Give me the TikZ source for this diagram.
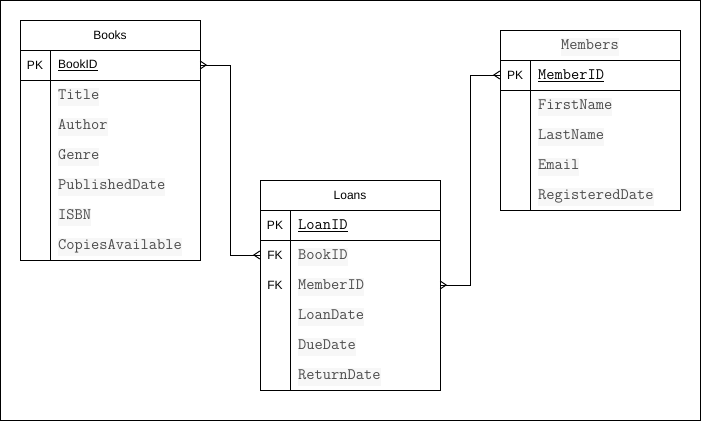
\documentclass[tikz,border=0pt]{standalone}
\usepackage{fontspec}
\setmainfont{Liberation Sans}
\tikzset{
  tbl/.style = {draw = black, line width = 1pt},
  hdr/.style = {font = \fontsize{12}{14}\selectfont},
  key/.style = {font = \fontsize{12}{14}\selectfont},
  keyname/.style = {anchor = west, inner xsep = 0pt, font = \fontsize{12}{14}\selectfont},
  code/.style = {anchor = west, inner xsep = 0pt, inner ysep = 2.5pt, fill = black!3, text = black!70, yshift = -2pt,
    text height = 9.5pt, text depth = 4pt, font = \ttfamily\fontsize{16}{17}\selectfont},
  rowbox/.style = {minimum width = 180pt, minimum height = 30pt, inner sep = 0pt},
  rel/.style = {line width = 1pt}
}
\begin{document}
\begin{tikzpicture}[x = 1pt, y = -1pt]
\useasboundingbox (0,0) rectangle (701,421);
\draw[line width = 1pt] (0.5,0.5) rectangle (700.5,420.5);
% Books
\draw[tbl] (20,20) rectangle (200,260);
\draw[tbl] (20,50) -- (200,50) (20,80) -- (200,80) (50,50) -- (50,260);
\node[hdr] (books) at (110,35) {Books};
\node[key] (books-pk) at (35,65) {PK};
\node[keyname] (books-id) at (58,65) {\underline{BookID}};
\foreach \f [count = \i] in {Title,Author,Genre,PublishedDate,ISBN,CopiesAvailable}
  \node[code] (books-f\i) at (58,65+30*\i) {\f};
\foreach \i in {0,...,6} \node[rowbox] (books-r\i) at (110,65+30*\i) {};
% Loans
\draw[tbl] (260,180) rectangle (440,390);
\draw[tbl] (260,210) -- (440,210) (260,240) -- (440,240) (290,210) -- (290,390);
\node[hdr] (loans) at (350,195) {Loans};
\node[key] (loans-pk) at (275,225) {PK};
\node[code, fill = none, text = black] (loans-id) at (298,225) {\underline{LoanID}};
\node[key] (loans-fk1) at (275,255) {FK};
\node[key] (loans-fk2) at (275,285) {FK};
\foreach \f [count = \i] in {BookID,MemberID,LoanDate,DueDate,ReturnDate}
  \node[code] (loans-f\i) at (298,225+30*\i) {\f};
\foreach \i in {0,...,5} \node[rowbox] (loans-r\i) at (350,225+30*\i) {};
% Members
\draw[tbl] (500,30) rectangle (680,210);
\draw[tbl] (500,60) -- (680,60) (500,90) -- (680,90) (530,60) -- (530,210);
\node[code, anchor = center] (members) at (590,45) {Members};
\node[key] (members-pk) at (515,75) {PK};
\node[code, fill = none, text = black] (members-id) at (538,75) {\underline{MemberID}};
\foreach \f [count = \i] in {FirstName,LastName,Email,RegisteredDate}
  \node[code] (members-f\i) at (538,75+30*\i) {\f};
\foreach \i in {0,...,4} \node[rowbox] (members-r\i) at (590,75+30*\i) {};
% relations, crow's feet at both ends
\draw[rel] (books-r0.east) -- ++(30,0) |- (loans-r1.west);
\draw[rel] (loans-r2.east) -- ++(30,0) |- (members-r0.west);
\foreach \a/\d in {books-r0.east/1, loans-r1.west/-1, loans-r2.east/1, members-r0.west/-1}
  \draw[rel] ([yshift = 4pt]\a) -- ++(6*\d,4) -- ++(-6*\d,4);
\end{tikzpicture}
\end{document}
